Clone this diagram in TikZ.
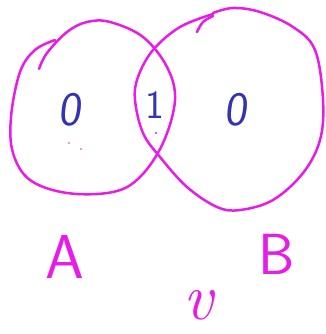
\documentclass[tikz,border=0pt]{standalone}
\usepackage{fontspec}
\definecolor{pen}{RGB}{232,28,232}
\definecolor{ink}{RGB}{52,52,178}
\begin{document}
\begin{tikzpicture}[x=1pt,y=-1pt,
  stroke/.style={draw=pen,line width=2.5pt,line cap=round,line join=round},
  digit/.style={text=ink,font=\sffamily\fontsize{48}{48}\selectfont,inner sep=0pt,xslant=0.12},
  letter/.style={text=pen,inner sep=0pt}]
\useasboundingbox (0,0) rectangle (325,334);
% left circle A
\draw[stroke] plot[smooth,tension=0.6] coordinates {
 (39,69) (47,53) (67,32) (87,22) (110,22) (143,37) (167,67) (175,100)
 (163,143) (140,177) (113,192) (67,193) (30,180) (13,153) (11,117)
 (20,72) (35,50) (55,40)};
% right circle B
\draw[stroke] plot[smooth,tension=0.6] coordinates {(197,32) (203,22) (213,16)};
\draw[stroke] plot[smooth,tension=0.6] coordinates {
 (213,14) (180,27) (153,50) (138,77) (135,100) (143,133) (160,157)
 (187,187) (217,207) (240,210) (273,200) (303,173) (320,140) (323,100)
 (315,50) (293,27) (260,12) (233,8) (213,13)};
% stray dots
\fill[pen] (156,133) circle (1.2pt);
\fill[pen] (69,143) circle (0.9pt);
\fill[pen] (81,149) circle (0.9pt);
% region values
\node[digit] (a0) at (72,110) {0};
\node[text=ink,font=\sffamily\fontsize{40}{40}\selectfont,inner sep=0pt] (ab1) at (155,105) {1};
\node[digit] (b0) at (238,110) {0};
% labels
\node[letter,font=\sffamily\fontsize{62}{62}\selectfont] (la) at (65,257) {A};
\node[letter,font=\sffamily\fontsize{58}{58}\selectfont] (lb) at (277,254) {B};
\node[letter,font=\itshape\fontsize{66}{66}\selectfont] (lv) at (198,305) {v};
\end{tikzpicture}
\end{document}
